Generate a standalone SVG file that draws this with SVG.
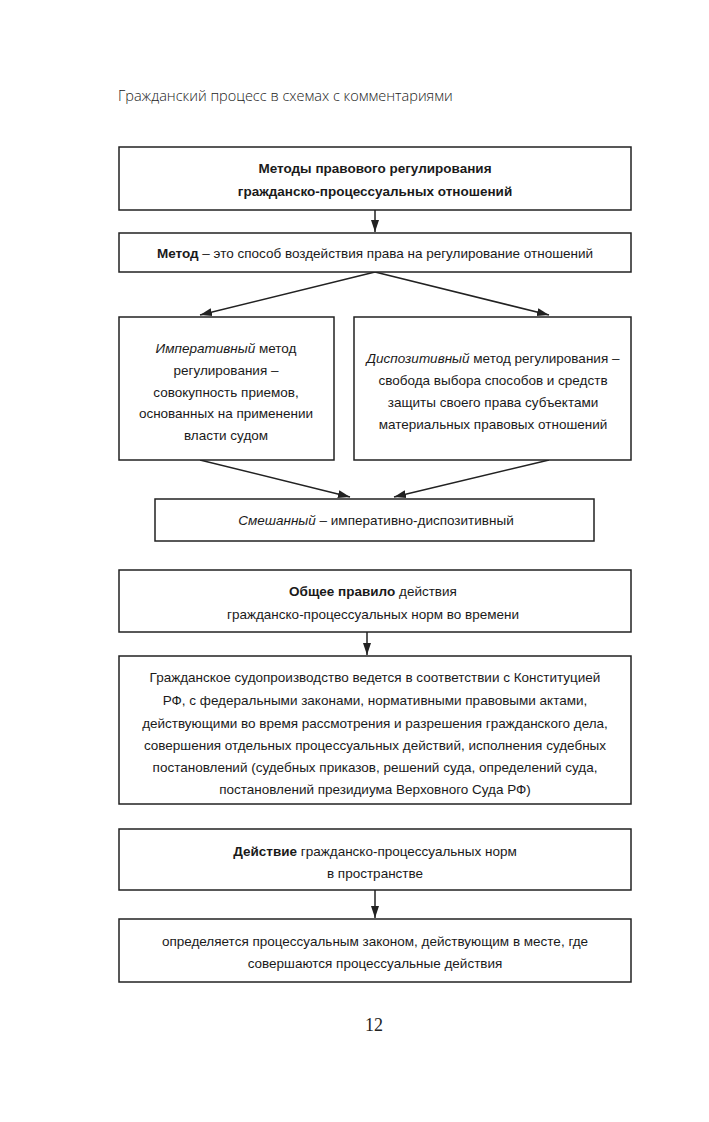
<svg xmlns="http://www.w3.org/2000/svg" width="709" height="1122" viewBox="0 0 709 1122">
<defs>
<style>
.box{fill:#fff;stroke:#222;stroke-width:1.5}
.t{font-family:"Liberation Sans",Arial,sans-serif;font-size:13.5px;fill:#1a1a1a;text-anchor:middle}
.b{font-weight:bold}
.i{font-style:italic}
.hdr{font-family:"Open Sans","Liberation Sans",sans-serif;font-size:14.5px;fill:#222;font-weight:300}
.pg{font-family:"Liberation Serif","Times New Roman",serif;font-size:18px;fill:#222;text-anchor:middle}
.c{stroke:#222;stroke-width:1.5;fill:none}
</style>
<marker id="ah" viewBox="0 0 12 10" refX="12" refY="5" markerWidth="12" markerHeight="10" markerUnits="userSpaceOnUse" orient="auto">
<path d="M0,1 L12,5 L0,9 z" fill="#222"/>
</marker>
</defs>
<rect width="709" height="1122" fill="#fff"/>
<text class="hdr" x="118" y="101">Гражданский процесс в схемах с комментариями</text>

<g id="connectors">
<line class="c" x1="375" y1="210" x2="375" y2="232" marker-end="url(#ah)"/>
<line class="c" x1="375" y1="272" x2="200" y2="315" marker-end="url(#ah)"/>
<line class="c" x1="375" y1="272" x2="549" y2="315" marker-end="url(#ah)"/>
<line class="c" x1="200" y1="460" x2="350" y2="497" marker-end="url(#ah)"/>
<line class="c" x1="549" y1="460" x2="394" y2="497" marker-end="url(#ah)"/>
<line class="c" x1="367" y1="632" x2="367" y2="655" marker-end="url(#ah)"/>
<line class="c" x1="375" y1="890" x2="375" y2="918" marker-end="url(#ah)"/>
</g>

<g id="n1">
<rect class="box" x="119" y="147" width="512" height="63"/>
<text class="t b" x="375" y="173">Методы правового регулирования</text>
<text class="t b" x="375" y="196">гражданско-процессуальных отношений</text>
</g>
<g id="n2">
<rect class="box" x="119" y="233" width="512" height="39"/>
<text class="t" x="375" y="258"><tspan class="b">Метод</tspan> – это способ воздействия права на регулирование отношений</text>
</g>
<g id="n3">
<rect class="box" x="119" y="317" width="215" height="143"/>
<text class="t" x="226" y="353"><tspan class="i">Императивный</tspan> метод</text>
<text class="t" x="226" y="375">регулирования –</text>
<text class="t" x="226" y="397">совокупность приемов,</text>
<text class="t" x="226" y="418">основанных на применении</text>
<text class="t" x="226" y="440">власти судом</text>
</g>
<g id="n4">
<rect class="box" x="354" y="317" width="277" height="143"/>
<text class="t" x="493" y="363"><tspan class="i">Диспозитивный</tspan> метод регулирования –</text>
<text class="t" x="493" y="385">свобода выбора способов и средств</text>
<text class="t" x="493" y="407">защиты своего права субъектами</text>
<text class="t" x="493" y="429">материальных правовых отношений</text>
</g>
<g id="n5">
<rect class="box" x="155" y="499" width="439" height="42"/>
<text class="t" x="376" y="525"><tspan class="i">Смешанный</tspan> – императивно-диспозитивный</text>
</g>
<g id="n6">
<rect class="box" x="119" y="570" width="512" height="62"/>
<text class="t" x="373" y="596"><tspan class="b">Общее правило</tspan> действия</text>
<text class="t" x="373" y="619">гражданско-процессуальных норм во времени</text>
</g>
<g id="n7">
<rect class="box" x="119" y="656" width="512" height="148"/>
<text class="t" x="375" y="682">Гражданское судопроизводство ведется в соответствии с Конституцией</text>
<text class="t" x="375" y="705">РФ, с федеральными законами, нормативными правовыми актами,</text>
<text class="t" x="375" y="728">действующими во время рассмотрения и разрешения гражданского дела,</text>
<text class="t" x="375" y="750">совершения отдельных процессуальных действий, исполнения судебных</text>
<text class="t" x="375" y="772">постановлений (судебных приказов, решений суда, определений суда,</text>
<text class="t" x="375" y="794">постановлений президиума Верховного Суда РФ)</text>
</g>
<g id="n8">
<rect class="box" x="119" y="829" width="512" height="61"/>
<text class="t" x="375" y="856"><tspan class="b">Действие</tspan> гражданско-процессуальных норм</text>
<text class="t" x="375" y="878">в пространстве</text>
</g>
<g id="n9">
<rect class="box" x="119" y="919" width="512" height="63"/>
<text class="t" x="375" y="946">определяется процессуальным законом, действующим в месте, где</text>
<text class="t" x="375" y="968">совершаются процессуальные действия</text>
</g>
<text class="pg" x="374" y="1031">12</text>
</svg>
